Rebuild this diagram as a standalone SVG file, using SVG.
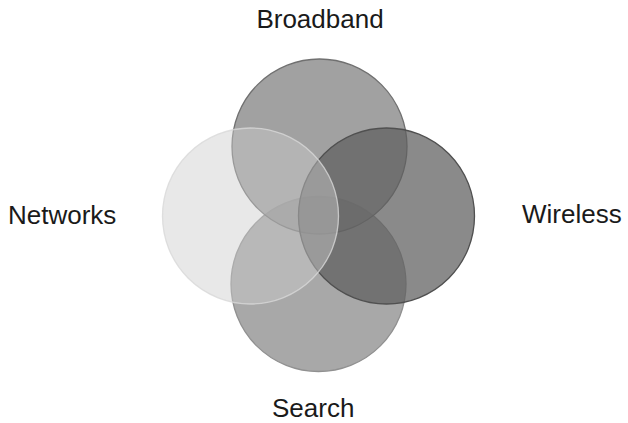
<svg xmlns="http://www.w3.org/2000/svg" width="628" height="423" viewBox="0 0 628 423">
  <style>
    .label { font-family: "Liberation Sans", Arial, sans-serif; font-size: 26px; fill: #1a1a1a; }
    .ring { stroke-width: 1.3; }
  </style>
  <rect width="628" height="423" fill="#ffffff"/>
  <g id="search">
    <circle class="ring" cx="318.5" cy="284" r="87.5" fill="#a8a8a8" stroke="#909090"/>
  </g>
  <g id="broadband">
    <circle class="ring" cx="319.5" cy="146.5" r="87.5" fill="#8a8a8a" fill-opacity="0.8" stroke="#707070"/>
  </g>
  <g id="wireless">
    <circle class="ring" cx="386.5" cy="216" r="88" fill="#5e5e5e" fill-opacity="0.73" stroke="#505050"/>
  </g>
  <g id="networks">
    <circle class="ring" cx="250.5" cy="216" r="88" fill="#cccccc" fill-opacity="0.45" stroke="#d8d8d8" stroke-opacity="0.8"/>
  </g>
  <g id="labels">
    <text class="label" x="320" y="28" text-anchor="middle">Broadband</text>
    <text class="label" x="8" y="224">Networks</text>
    <text class="label" x="522" y="223">Wireless</text>
    <text class="label" x="272" y="417">Search</text>
  </g>
</svg>
